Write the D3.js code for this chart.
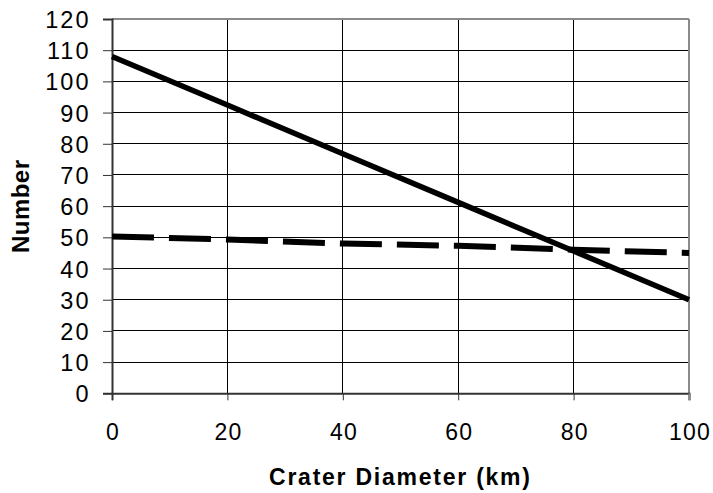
<!DOCTYPE html>
<html>
<head>
<meta charset="utf-8">
<script src="https://cdn.jsdelivr.net/npm/d3@7"></script>
<style>
  html, body { margin: 0; padding: 0; background: #fff; }
  svg { display: block; }
  text { font-family: "Liberation Sans", Arial, Helvetica, sans-serif; fill: #000; }
</style>
</head>
<body>
<svg id="chart" width="713" height="493"></svg>
<script>
// ---- data ----
const diameters = [0, 20, 40, 60, 80, 100];
const solidSeries = [108, 92.4, 76.8, 61.2, 45.6, 30];
const dashedSeries = [50.3, 49.3, 48.0, 47.3, 46.0, 45.0];
const xTicks = [0, 20, 40, 60, 80, 100];
const yTicks = [0, 10, 20, 30, 40, 50, 60, 70, 80, 90, 100, 110, 120];
const xTitle = "Crater Diameter (km)";
const yTitle = "Number";

// ---- layout ----
const svg = d3.select("#chart");
const pLeft = 112, pRight = 689, pTop = 19, pBottom = 393.3;
const lsY = 2, lsX = 1.2; // letter spacing of tick labels

const x = d3.scaleLinear().domain([0, 100]).range([pLeft, pRight]);
const y = d3.scaleLinear().domain([0, 120]).range([pBottom, pTop]);

// gridlines
svg.append("g").selectAll("line").data(yTicks.filter(d => d > 0 && d < 120)).join("line")
  .attr("x1", pLeft).attr("x2", pRight)
  .attr("y1", d => y(d)).attr("y2", d => y(d))
  .attr("stroke", "#000").attr("stroke-width", 1).attr("shape-rendering", "crispEdges");
svg.append("g").selectAll("line").data(xTicks.filter(d => d > 0 && d < 100)).join("line")
  .attr("y1", pTop).attr("y2", pBottom)
  .attr("x1", d => x(d)).attr("x2", d => x(d))
  .attr("stroke", "#000").attr("stroke-width", 1).attr("shape-rendering", "crispEdges");

// top and right border (gray)
svg.append("line").attr("x1", pLeft).attr("x2", pRight).attr("y1", pTop).attr("y2", pTop)
  .attr("stroke", "#8a8a8a").attr("stroke-width", 2).attr("shape-rendering", "crispEdges");
svg.append("line").attr("x1", pRight).attr("x2", pRight).attr("y1", pTop).attr("y2", pBottom)
  .attr("stroke", "#8a8a8a").attr("stroke-width", 2).attr("shape-rendering", "crispEdges");

// axes
const yAxis = d3.axisLeft(y).tickValues(yTicks).tickSize(9).tickPadding(12.5).tickFormat(d3.format("d"));
const gy = svg.append("g").attr("transform", `translate(${pLeft},0)`).call(yAxis);
gy.attr("font-family", null).attr("font-size", null);
gy.select(".domain").attr("stroke", "#333").attr("stroke-width", 2);
gy.selectAll(".tick line").attr("stroke", "#333").attr("stroke-width", 1);
gy.selectAll(".tick text").style("font-size", "23.5px").style("letter-spacing", lsY + "px")
  .attr("dy", "0.36em");

const xAxis = d3.axisBottom(x).tickValues(xTicks).tickSize(7).tickPadding(23).tickFormat(d3.format("d"));
const gx = svg.append("g").attr("transform", `translate(0,${pBottom})`).call(xAxis);
gx.attr("font-family", null).attr("font-size", null);
gx.select(".domain").attr("stroke", "#333").attr("stroke-width", 2);
gx.selectAll(".tick line").attr("stroke", "#333").attr("stroke-width", 1);
gx.selectAll(".tick text").style("font-size", "23px").style("letter-spacing", lsX + "px")
  .attr("dx", lsX / 2);
gx.selectAll(".tick line").filter(d => d === 100).attr("stroke", "#8a8a8a").attr("stroke-width", 2);

// lines
const line = d3.line().x((d, i) => x(diameters[i])).y(d => y(d));
svg.append("path").datum(solidSeries).attr("d", line)
  .attr("fill", "none").attr("stroke", "#000").attr("stroke-width", 5.5);
svg.append("path").datum(dashedSeries).attr("d", line)
  .attr("fill", "none").attr("stroke", "#000").attr("stroke-width", 6)
  .attr("stroke-dasharray", "42,15");

// titles
svg.append("text").attr("x", 269).attr("y", 485)
  .attr("textLength", 261).attr("lengthAdjust", "spacing")
  .style("font-size", "23px").style("font-weight", "bold").text(xTitle);
svg.append("text")
  .attr("transform", "translate(29,253) rotate(-90)")
  .attr("textLength", 93).attr("lengthAdjust", "spacing")
  .style("font-size", "24px").style("font-weight", "bold").text(yTitle);
</script>
</body>
</html>
